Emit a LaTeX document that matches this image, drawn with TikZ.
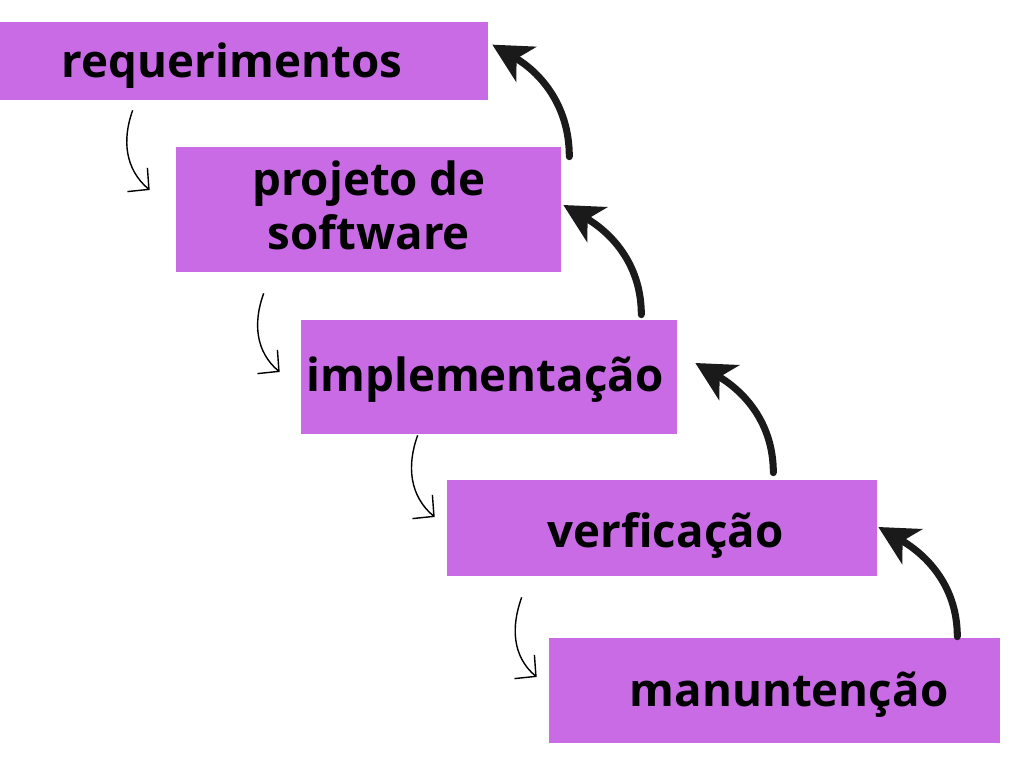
\documentclass[tikz,border=0pt]{standalone}
\usepackage{fontspec}
\newfontfamily\boxfont{Open Sans}
\usetikzlibrary{arrows.meta}
\definecolor{boxpurple}{HTML}{C96BE5}
\definecolor{arrowblack}{HTML}{1A1A1A}

\begin{document}
\begin{tikzpicture}[x=0.02cm, y=0.02cm,
    box/.style={rectangle, fill=boxpurple, inner sep=0pt},
    lbl/.style={anchor=base, inner sep=0pt, align=center, font=\boxfont\bfseries\fontsize{26}{31}\selectfont},
    backarr/.style={line width=4pt, arrowblack, line cap=round, -{Stealth[length=0.78cm, width=0.8cm, inset=0.22cm]}},
    fwdarr/.style={line width=0.8pt, black, -{Straight Barb[length=0.3cm, width=0.62cm]}}]
  \useasboundingbox (0,0) rectangle (1024,768);

  \node[box, minimum width=9.76cm, minimum height=1.56cm] (req) at (244,707) {};
  \node[box, minimum width=7.7cm, minimum height=2.5cm] (proj) at (368.5,558.5) {};
  \node[box, minimum width=7.52cm, minimum height=2.28cm] (impl) at (489,391) {};
  \node[box, minimum width=8.6cm, minimum height=1.92cm] (verf) at (662,240) {};
  \node[box, minimum width=9.02cm, minimum height=2.1cm] (manu) at (774.5,77.5) {};

  \node[lbl] (req-t) at (232,690) {requerimentos};
  \node[lbl] (proj-t) at (369,518) {projeto de\\software};
  \node[lbl] (impl-t) at (485,376) {implementação};
  \node[lbl] (verf-t) at (665.5,221) {verficação};
  \node[lbl] (manu-t) at (789,62) {manuntenção};

  \draw[fwdarr] ([xshift=2.66cm, yshift=-0.2cm]req.south west) to[out=-110, in=140] ([xshift=-0.52cm, yshift=0.39cm]proj.west);
  \draw[fwdarr] ([xshift=1.76cm, yshift=-0.42cm]proj.south west) to[out=-110, in=140] ([xshift=-0.42cm, yshift=0.1cm]impl.west);
  \draw[fwdarr] ([xshift=2.34cm, yshift=-0.02cm]impl.south west) to[out=-110, in=140] ([xshift=-0.24cm, yshift=0.22cm]verf.west);
  \draw[fwdarr] ([xshift=1.5cm, yshift=-0.42cm]verf.south west) to[out=-110, in=140] ([xshift=-0.24cm, yshift=0.27cm]manu.west);

  \draw[backarr] ([xshift=0.16cm, yshift=-0.2cm]proj.north east) to[out=90, in=-30] ([xshift=0.08cm, yshift=-0.46cm]req.north east);
  \draw[backarr] ([xshift=-0.72cm, yshift=0.1cm]impl.north east) to[out=90, in=-30] ([xshift=0.04cm, yshift=0.09cm]proj.east);
  \draw[backarr] ([xshift=-2.08cm, yshift=0.14cm]verf.north east) to[out=90, in=-30] ([xshift=0.36cm, yshift=0.28cm]impl.east);
  \draw[backarr] ([xshift=-0.86cm, yshift=0.02cm]manu.north east) to[out=90, in=-30] ([xshift=0.02cm, yshift=0.02cm]verf.east);
\end{tikzpicture}
\end{document}
